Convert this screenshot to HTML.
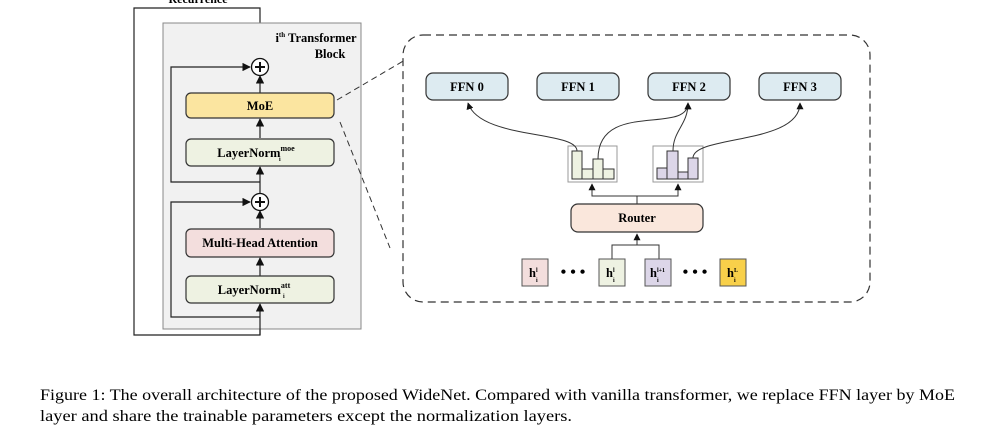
<!DOCTYPE html>
<html><head><meta charset="utf-8"><style>
html,body{margin:0;padding:0;background:#fff;width:1000px;height:441px;overflow:hidden}
svg{display:block}
text{font-family:"Liberation Serif",serif;}
</style></head><body>
<svg width="1000" height="441" viewBox="0 0 1000 441" xmlns="http://www.w3.org/2000/svg">
<defs>
<marker id="a" viewBox="0 0 10 10" refX="9" refY="5" markerWidth="7" markerHeight="7" orient="auto-start-reverse"><path d="M0,0 L10,5 L0,10 z" fill="#111"/></marker>
</defs>
<text x="198" y="3" font-size="12" font-weight="bold" text-anchor="middle">Recurrence</text>
<path d="M260,59 V8 H134 V335 H260 V304" fill="none" stroke="#222" stroke-width="1.2" marker-end="url(#a)"/>
<rect x="163" y="23" width="198" height="306" fill="#f1f1f1" stroke="#888" stroke-width="1"/>
<text x="316" y="42" font-size="12.5" font-weight="bold" text-anchor="middle">i<tspan font-size="7" dy="-5">th</tspan><tspan dy="5"> Transformer</tspan></text>
<text x="330" y="58" font-size="12.5" font-weight="bold" text-anchor="middle">Block</text>
<path d="M260,182 H171 V67 H250" fill="none" stroke="#222" stroke-width="1.2" marker-end="url(#a)"/>
<path d="M260,317 H171 V202 H250" fill="none" stroke="#222" stroke-width="1.2" marker-end="url(#a)"/>
<path d="M260,335 V304" fill="none" stroke="#222" stroke-width="1.2" marker-end="url(#a)"/>
<path d="M260,276 V258" fill="none" stroke="#222" stroke-width="1.2" marker-end="url(#a)"/>
<path d="M260,228 V211" fill="none" stroke="#222" stroke-width="1.2" marker-end="url(#a)"/>
<path d="M260,194 V167" fill="none" stroke="#222" stroke-width="1.2" marker-end="url(#a)"/>
<path d="M260,138 V119" fill="none" stroke="#222" stroke-width="1.2" marker-end="url(#a)"/>
<path d="M260,93 V76" fill="none" stroke="#222" stroke-width="1.2" marker-end="url(#a)"/>
<g stroke="#111" stroke-width="1.3" fill="#fff">
<circle cx="260" cy="67" r="8.5"/><path d="M255,67 H265 M260,62 V72" stroke-width="2"/>
<circle cx="260" cy="202" r="8.5"/><path d="M255,202 H265 M260,197 V207" stroke-width="2"/>
</g>
<rect x="186" y="93" width="148" height="25" rx="5" fill="#fbe5a0" stroke="#333" stroke-width="1.2"/>
<text x="260" y="110" font-size="12.5" font-weight="bold" text-anchor="middle">MoE</text>
<rect x="186" y="139" width="148" height="27" rx="5" fill="#eef2e2" stroke="#333" stroke-width="1.2"/>
<text x="256" y="157" font-size="12.5" font-weight="bold" text-anchor="middle">LayerNorm<tspan font-size="8" dy="-6">moe</tspan></text>
<text x="279" y="161" font-size="6" font-weight="bold">i</text>
<rect x="186" y="229" width="148" height="28" rx="5" fill="#f3dedd" stroke="#333" stroke-width="1.2"/>
<text x="260" y="247" font-size="12.5" font-weight="bold" text-anchor="middle">Multi-Head Attention</text>
<rect x="186" y="276" width="148" height="27" rx="5" fill="#eef2e2" stroke="#333" stroke-width="1.2"/>
<text x="254" y="294" font-size="12.5" font-weight="bold" text-anchor="middle">LayerNorm<tspan font-size="8" dy="-6">att</tspan></text>
<text x="283" y="298" font-size="6" font-weight="bold">i</text>
<path d="M337,100 L405,60 M340,122 L390,248" stroke="#333" stroke-width="1" stroke-dasharray="6,4" fill="none"/>
<rect x="403" y="35" width="467" height="267" rx="20" fill="#fff" stroke="#333" stroke-width="1.2" stroke-dasharray="8,5"/>
<g stroke="#333" stroke-width="1.2" fill="#ddebf1">
<rect x="426" y="73" width="82" height="27" rx="7"/>
<rect x="537" y="73" width="82" height="27" rx="7"/>
<rect x="648" y="73" width="82" height="27" rx="7"/>
<rect x="759" y="73" width="82" height="27" rx="7"/>
</g>
<g font-size="12.5" font-weight="bold" text-anchor="middle">
<text x="467" y="91">FFN 0</text><text x="578" y="91">FFN 1</text><text x="689" y="91">FFN 2</text><text x="800" y="91">FFN 3</text>
</g>
<rect x="568" y="146" width="49" height="36" fill="#fff" stroke="#999"/>
<rect x="653" y="146" width="50" height="36" fill="#fff" stroke="#999"/>
<g stroke="#333" stroke-width="1" fill="#eef2e2">
<rect x="572" y="151" width="10" height="28"/><rect x="582" y="169" width="11" height="10"/><rect x="593" y="159" width="10" height="20"/><rect x="603" y="169" width="11" height="10"/>
</g>
<g stroke="#333" stroke-width="1" fill="#dcd6e8">
<rect x="657" y="168" width="10" height="11"/><rect x="667" y="151" width="11" height="28"/><rect x="678" y="172" width="10" height="7"/><rect x="688" y="158" width="10" height="21"/>
</g>
<g fill="none" stroke="#333" stroke-width="1" marker-end="url(#a)">
<path d="M577,151 C577,130 480,140 468,103"/>
<path d="M598,159 C598,100 688,135 688,103"/>
<path d="M673,151 C673,130 688,125 688,103"/>
<path d="M693,158 C693,135 800,145 800,103"/>
<path d="M637,204 V196 H592 V184"/>
<path d="M637,196 H678 V184"/>
<path d="M612,259 V245 H659 V259 M637,245 V234"/>
</g>
<rect x="571" y="204" width="132" height="28" rx="7" fill="#fae7dc" stroke="#333" stroke-width="1.2"/>
<text x="637" y="222" font-size="12.5" font-weight="bold" text-anchor="middle">Router</text>
<g stroke="#555" stroke-width="1">
<rect x="522" y="259" width="26" height="27" fill="#f3dedd"/>
<rect x="599" y="259" width="26" height="27" fill="#eef2e2"/>
<rect x="645" y="259" width="26" height="27" fill="#dcd6e8"/>
<rect x="720" y="259" width="26" height="27" fill="#f8d04a"/>
</g>
<g font-size="12.5" font-weight="bold">
<text x="529" y="277">h<tspan font-size="6" dy="-5">l</tspan></text>
<text x="606" y="277">h<tspan font-size="6" dy="-5">l</tspan></text>
<text x="650" y="277">h<tspan font-size="6" dy="-5">l+1</tspan></text>
<text x="727" y="277">h<tspan font-size="6" dy="-5">L</tspan></text>
</g>
<g font-size="6" font-weight="bold">
<text x="536" y="282">i</text><text x="613" y="282">i</text><text x="657" y="282">i</text><text x="734" y="282">i</text>
</g>
<text x="573" y="277" font-size="16" font-weight="bold" text-anchor="middle">• • •</text>
<text x="695" y="277" font-size="16" font-weight="bold" text-anchor="middle">• • •</text>
<text x="40" y="400" font-size="16" textLength="915" lengthAdjust="spacingAndGlyphs">Figure 1: The overall architecture of the proposed WideNet. Compared with vanilla transformer, we replace FFN layer by MoE</text>
<text x="40" y="421" font-size="16" textLength="532" lengthAdjust="spacingAndGlyphs">layer and share the trainable parameters except the normalization layers.</text>
</svg>
</body></html>
